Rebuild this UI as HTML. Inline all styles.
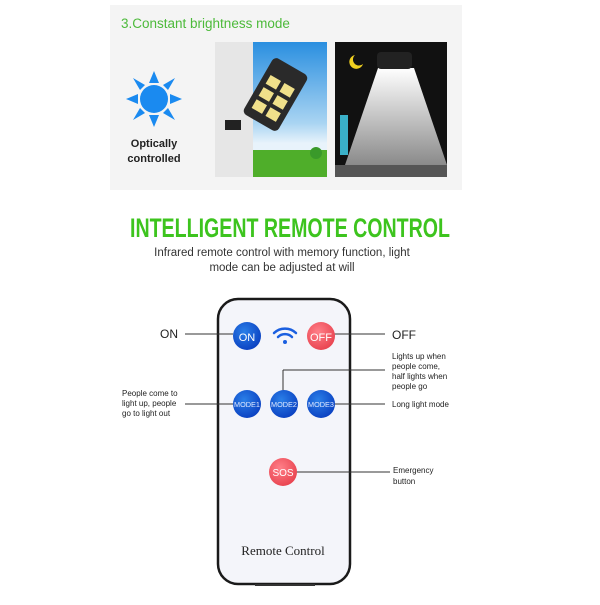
<!DOCTYPE html>
<html><head><meta charset="utf-8"><style>
body{margin:0;width:600px;height:600px;background:#fff;overflow:hidden;font-family:"Liberation Sans",sans-serif}
</style></head><body>
<svg width="600" height="600" viewBox="0 0 600 600" xmlns="http://www.w3.org/2000/svg" font-family="Liberation Sans, sans-serif">
<defs>
<linearGradient id="sky" x1="0" y1="0" x2="0" y2="1"><stop offset="0" stop-color="#2a8fe0"/><stop offset="0.6" stop-color="#a9d4f2"/><stop offset="0.75" stop-color="#e8f3fb"/></linearGradient>
<linearGradient id="beam" x1="0" y1="0" x2="0" y2="1"><stop offset="0" stop-color="#ffffff"/><stop offset="1" stop-color="#8a8a8a"/></linearGradient>
<radialGradient id="bl" cx="0.4" cy="0.35" r="0.7"><stop offset="0" stop-color="#2a7fe8"/><stop offset="1" stop-color="#0a3fc0"/></radialGradient>
<radialGradient id="rd" cx="0.4" cy="0.35" r="0.7"><stop offset="0" stop-color="#ff7f88"/><stop offset="1" stop-color="#e8424e"/></radialGradient>
</defs>
<rect x="110" y="5" width="352" height="185" fill="#f4f4f4"/>
<text x="121" y="28" font-size="13.5" fill="#4cba3a">3.Constant brightness mode</text>
<g fill="#1a8af0">
<circle cx="154" cy="99" r="14"/>
<polygon points="154,71 149,83 159,83"/><polygon points="154,127 149,115 159,115"/>
<polygon points="126,99 138,94 138,104"/><polygon points="182,99 170,94 170,104"/>
<polygon points="133,78 145,85 140,90"/><polygon points="175,78 163,85 168,90"/>
<polygon points="133,120 145,113 140,108"/><polygon points="175,120 163,113 168,108"/>
</g>
<text x="154" y="147" font-size="11" font-weight="bold" text-anchor="middle" fill="#222">Optically</text>
<text x="154" y="162" font-size="11" font-weight="bold" text-anchor="middle" fill="#222">controlled</text>
<rect x="215" y="42" width="38" height="135" fill="#e6e6e6"/>
<rect x="253" y="42" width="74" height="135" fill="url(#sky)"/>
<rect x="253" y="150" width="74" height="27" fill="#4fae2a"/>
<circle cx="316" cy="153" r="6" fill="#3a9a2a"/>
<g transform="rotate(30 270 100)"><rect x="252" y="60" width="40" height="65" rx="5" fill="#2a2a2a"/>
<rect x="258" y="78" width="12" height="10" fill="#f0e08a"/><rect x="274" y="78" width="12" height="10" fill="#f0e08a"/>
<rect x="258" y="92" width="12" height="10" fill="#f0e08a"/><rect x="274" y="92" width="12" height="10" fill="#f0e08a"/>
<rect x="258" y="106" width="12" height="10" fill="#f0e08a"/><rect x="274" y="106" width="12" height="10" fill="#f0e08a"/></g>
<rect x="225" y="120" width="16" height="10" fill="#222"/>
<rect x="335" y="42" width="112" height="135" fill="#111"/>
<polygon points="378,68 414,68 447,165 345,165" fill="url(#beam)"/>
<rect x="377" y="52" width="35" height="17" rx="4" fill="#222"/>
<path d="M355 55 a7 7 0 1 0 8 9 a6 6 0 1 1 -8 -9z" fill="#f0d020"/>
<rect x="335" y="165" width="112" height="12" fill="#555"/>
<rect x="340" y="115" width="8" height="40" fill="#3ab0c8"/>
<text x="130" y="237" font-size="27" font-weight="bold" fill="#3dc41e" textLength="320" lengthAdjust="spacingAndGlyphs">INTELLIGENT REMOTE CONTROL</text>
<text x="282" y="256" font-size="11.5" text-anchor="middle" fill="#333">Infrared remote control with memory function, light</text>
<text x="282" y="271" font-size="11.5" text-anchor="middle" fill="#333">mode can be adjusted at will</text>
<rect x="218" y="299" width="132" height="285" rx="20" fill="#f4f5fa" stroke="#1a1a1a" stroke-width="2.5"/>
<rect x="255" y="584" width="60" height="2" fill="#333"/>
<g stroke="#333" stroke-width="1">
<line x1="185" y1="334" x2="233" y2="334"/><line x1="325" y1="334" x2="385" y2="334"/>
<line x1="185" y1="404" x2="233" y2="404"/><line x1="325" y1="404" x2="385" y2="404"/>
<line x1="283" y1="392" x2="283" y2="370"/><line x1="283" y1="370" x2="385" y2="370"/>
<line x1="290" y1="472" x2="390" y2="472"/>
</g>
<circle cx="247" cy="336" r="14" fill="url(#bl)"/><text x="247" y="341" font-size="11" text-anchor="middle" fill="#fff">ON</text>
<circle cx="321" cy="336" r="14" fill="url(#rd)"/><text x="321" y="341" font-size="11" text-anchor="middle" fill="#fff">OFF</text>
<g fill="none" stroke="#1a5fe0" stroke-width="2.5" stroke-linecap="round">
<path d="M274 333 a16 16 0 0 1 22 0"/><path d="M278 337 a10 10 0 0 1 14 0"/></g>
<circle cx="285" cy="342" r="2" fill="#1a5fe0"/>
<circle cx="247" cy="404" r="14" fill="url(#bl)"/><text x="247" y="407" font-size="7.5" text-anchor="middle" fill="#dfe8ff" textLength="26" lengthAdjust="spacingAndGlyphs">MODE1</text>
<circle cx="284" cy="404" r="14" fill="url(#bl)"/><text x="284" y="407" font-size="7.5" text-anchor="middle" fill="#dfe8ff" textLength="26" lengthAdjust="spacingAndGlyphs">MODE2</text>
<circle cx="321" cy="404" r="14" fill="url(#bl)"/><text x="321" y="407" font-size="7.5" text-anchor="middle" fill="#dfe8ff" textLength="26" lengthAdjust="spacingAndGlyphs">MODE3</text>
<circle cx="283" cy="472" r="14" fill="url(#rd)"/><text x="283" y="476" font-size="10" text-anchor="middle" fill="#fff">SOS</text>
<text x="283" y="555" font-size="13" text-anchor="middle" fill="#222" font-family="Liberation Serif, serif">Remote Control</text>
<g fill="#222">
<text x="160" y="338" font-size="12">ON</text>
<text x="392" y="339" font-size="12">OFF</text>
<text x="392" y="359" font-size="8">Lights up when</text>
<text x="392" y="369" font-size="8">people come,</text>
<text x="392" y="379" font-size="8">half lights when</text>
<text x="392" y="389" font-size="8">people go</text>
<text x="392" y="407" font-size="8">Long light mode</text>
<text x="122" y="396" font-size="8">People come to</text>
<text x="122" y="406" font-size="8">light up, people</text>
<text x="122" y="416" font-size="8">go to light out</text>
<text x="393" y="473" font-size="8">Emergency</text>
<text x="393" y="484" font-size="8">button</text>
</g>
</svg>
</body></html>
